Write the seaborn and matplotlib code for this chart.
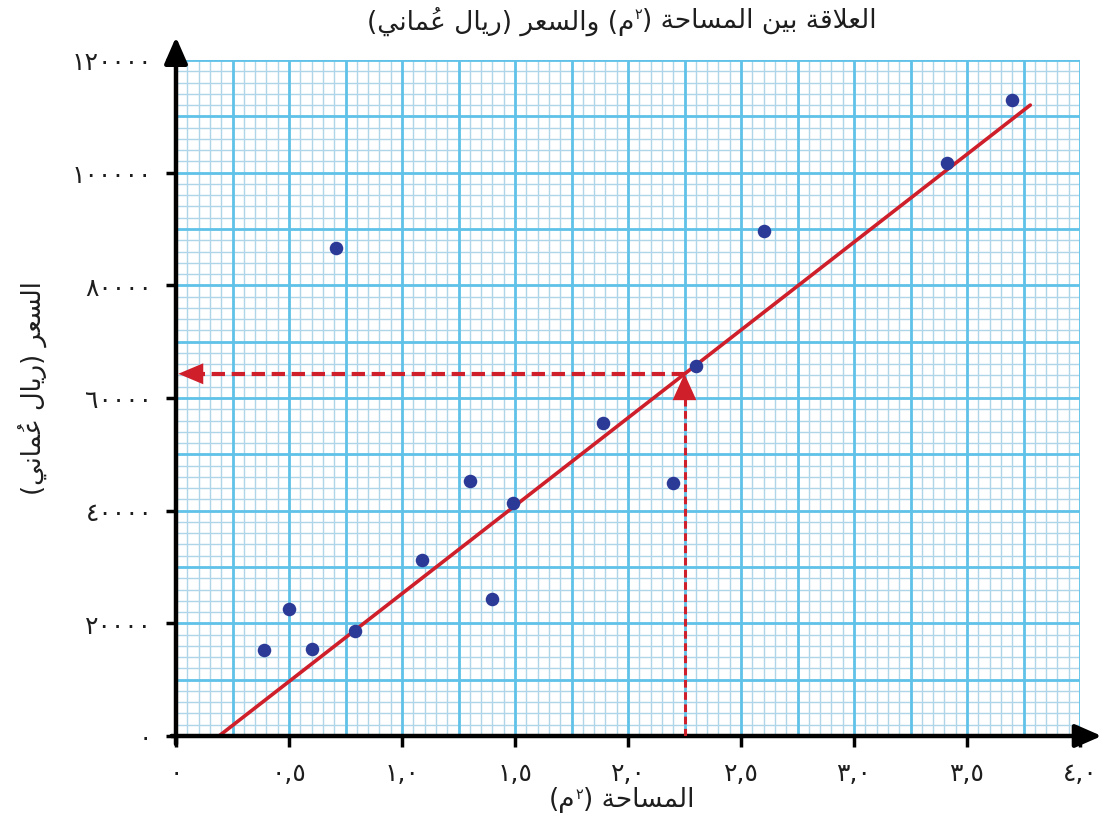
import numpy as np
import pandas as pd
import matplotlib
matplotlib.use("Agg")
import matplotlib.pyplot as plt
import seaborn as sns
from matplotlib.offsetbox import HPacker, TextArea, AnnotationBbox

# ---------------- data ----------------
area = [0.39, 0.50, 0.60, 0.71, 0.79, 1.09, 1.30, 1.40, 1.49, 1.89, 2.20, 2.30, 2.60, 3.41, 3.70]
price = [15300, 22500, 15400, 86600, 18600, 31200, 45300, 24300, 41400, 55600, 44900, 65700, 89600, 101700, 112900]
fit_x = [0.19, 3.78]
fit_y = [0, 112000]
read_x = 2.25
read_y = 64300
x_ticks = [0, 0.5, 1.0, 1.5, 2.0, 2.5, 3.0, 3.5, 4.0]
x_tick_labels = ['٠', '٠,٥', '١,٠', '١,٥', '٢,٠', '٢,٥', '٣,٠', '٣,٥', '٤,٠']
y_ticks = [0, 20000, 40000, 60000, 80000, 100000, 120000]
y_tick_labels = ['٠', '٢٠٠٠٠', '٤٠٠٠٠', '٦٠٠٠٠', '٨٠٠٠٠', '١٠٠٠٠٠', '١٢٠٠٠٠']
title_text = 'العلاقة بين المساحة (م٢) والسعر (ريال عُماني)'
x_label_text = 'المساحة (م٢)'
y_label_text = 'السعر (ريال عُماني)'

# ------------- minimal Arabic shaping + RTL ordering -------------
_AR = {
    '\u0627': ('\uFE8D', '\uFE8E', None, None),
    '\u0628': ('\uFE8F', '\uFE90', '\uFE91', '\uFE92'),
    '\u0629': ('\uFE93', '\uFE94', None, None),
    '\u062D': ('\uFEA1', '\uFEA2', '\uFEA3', '\uFEA4'),
    '\u0631': ('\uFEAD', '\uFEAE', None, None),
    '\u0633': ('\uFEB1', '\uFEB2', '\uFEB3', '\uFEB4'),
    '\u0639': ('\uFEC9', '\uFECA', '\uFECB', '\uFECC'),
    '\u0642': ('\uFED5', '\uFED6', '\uFED7', '\uFED8'),
    '\u0644': ('\uFEDD', '\uFEDE', '\uFEDF', '\uFEE0'),
    '\u0645': ('\uFEE1', '\uFEE2', '\uFEE3', '\uFEE4'),
    '\u0646': ('\uFEE5', '\uFEE6', '\uFEE7', '\uFEE8'),
    '\u0648': ('\uFEED', '\uFEEE', None, None),
    '\u064A': ('\uFEF1', '\uFEF2', '\uFEF3', '\uFEF4'),
}
_MARKS = {'\u064F'}
_MIRROR = {'(': ')', ')': '('}


def shape_rtl(text):
    chars = list(text)
    n = len(chars)

    def nb(i, step):
        j = i + step
        while 0 <= j < n and chars[j] in _MARKS:
            j += step
        return j if 0 <= j < n else None

    clusters = []
    i = 0
    while i < n:
        c = chars[i]
        if c in _AR:
            p = nb(i, -1)
            joins_prev = p is not None and chars[p] in _AR and _AR[chars[p]][2] is not None
            q = nb(i, 1)
            if c == '\u0644' and q is not None and chars[q] == '\u0627':
                g = '\uFEFC' if joins_prev else '\uFEFB'
                clusters.append([g])
                i = q + 1
                continue
            joins_next = _AR[c][2] is not None and q is not None and chars[q] in _AR
            iso, fin, ini, med = _AR[c]
            if joins_prev and joins_next:
                g = med
            elif joins_prev:
                g = fin
            elif joins_next:
                g = ini
            else:
                g = iso
            clusters.append([g])
        elif c in _MARKS and clusters:
            # mark placed before its base in visual (LTR) order
            clusters[-1].insert(0, c)
        else:
            clusters.append([_MIRROR.get(c, c)])
        i += 1
    return ''.join(''.join(cl) for cl in reversed(clusters))


def sup_pieces(text):
    """Split shaped text so the digit ٢ after م becomes a superscript to its right."""
    vis = shape_rtl(text)
    k = vis.index('٢')
    return vis[:k] + vis[k + 1], '٢', vis[k + 2:]


# ---------------- style ----------------
sns.set_theme(style="white")
plt.rcParams['font.family'] = ['DejaVu Sans']

RED = '#cf1f2b'
BLUE_PT = '#2b3a97'
MAJ = '#60c2e8'
MIN = '#afd6e8'
TXT = '#1e1e1e'

fig = plt.figure(figsize=(11.05, 8.37), dpi=100)
ax = fig.add_axes([176 / 1105, 1 - 737 / 837, 904 / 1105, 676 / 837])
ax.set_xlim(0, 4.0)
ax.set_ylim(0, 120000)
ax.set_facecolor('white')
for s in ax.spines.values():
    s.set_visible(False)

# graph-paper grid
ax.vlines(np.arange(0, 4.0001, 0.05), 0, 120000, colors=MIN, lw=1.0, zorder=0.5)
ax.hlines(np.arange(0, 120001, 2000), 0, 4.0, colors=MIN, lw=1.0, zorder=0.5)
ax.vlines(np.arange(0, 4.0001, 0.25), 0, 120000, colors=MAJ, lw=2.0, zorder=0.6)
ax.hlines(np.arange(0, 120001, 10000), 0, 4.0, colors=MAJ, lw=2.0, zorder=0.6)

# fitted line
fit_df = pd.DataFrame({'x': fit_x, 'y': fit_y})
sns.lineplot(data=fit_df, x='x', y='y', color=RED, lw=2.6, ax=ax, zorder=3)

# scatter points
df = pd.DataFrame({'area': area, 'price': price})
sns.scatterplot(data=df, x='area', y='price', color=BLUE_PT, s=95, edgecolor=BLUE_PT,
                linewidth=0, ax=ax, zorder=4)

# reading arrows (dashed)
ax.plot([read_x, read_x], [0, read_y * 0.95], color=RED, lw=2.2, dashes=(2.5, 1.5),
        zorder=3.5, solid_capstyle='butt')
ax.plot([read_x, 0.06], [read_y, read_y], color=RED, lw=3.0, dashes=(3.2, 1.6),
        zorder=3.5, solid_capstyle='butt')
ax.annotate('', xy=(read_x, read_y), xytext=(read_x, read_y * 0.93),
            arrowprops=dict(arrowstyle='-|>,head_length=1.0,head_width=0.45', color=RED,
                            lw=0, mutation_scale=19, shrinkA=0, shrinkB=0), zorder=5)
ax.annotate('', xy=(0.01, read_y), xytext=(0.12, read_y),
            arrowprops=dict(arrowstyle='-|>,head_length=1.0,head_width=0.42', color=RED,
                            lw=0, mutation_scale=18, shrinkA=0, shrinkB=0), zorder=5)

# black axes with arrows
ax.annotate('', xy=(0, 1.034), xytext=(0, -0.012), xycoords='axes fraction',
            textcoords='axes fraction', annotation_clip=False,
            arrowprops=dict(arrowstyle='-|>,head_length=0.8,head_width=0.35', color='black',
                            lw=3.2, mutation_scale=20, shrinkA=0, shrinkB=0))
ax.annotate('', xy=(1.024, 0), xytext=(-0.005, 0), xycoords='axes fraction',
            textcoords='axes fraction', annotation_clip=False,
            arrowprops=dict(arrowstyle='-|>,head_length=0.8,head_width=0.35', color='black',
                            lw=3.2, mutation_scale=20, shrinkA=0, shrinkB=0))

# ticks
ax.set_xticks(x_ticks)
ax.set_xticklabels(x_tick_labels)
ax.set_yticks(y_ticks)
ax.set_yticklabels(y_tick_labels)
ax.tick_params(axis='x', direction='out', length=8, width=2.5, color='black', pad=10,
               labelsize=18, labelcolor=TXT, bottom=True)
ax.tick_params(axis='y', direction='out', length=7, width=2.5, color='black', pad=10,
               labelsize=18, labelcolor=TXT, left=True)
ax.set_xlabel('')
ax.set_ylabel('')


def sup_label(text, xy, size):
    a, s, b = sup_pieces(text)
    box = HPacker(children=[TextArea(a, textprops=dict(fontsize=size, color=TXT)),
                            TextArea(s, textprops=dict(fontsize=size * 0.55, color=TXT)),
                            TextArea(b, textprops=dict(fontsize=size, color=TXT))],
                  align='top', pad=0, sep=0)
    ab = AnnotationBbox(box, xy, xycoords='figure fraction', frameon=False,
                        box_alignment=(0.5, 0.5), pad=0)
    fig.add_artist(ab)


# texts
sup_label(title_text, (622 / 1105, 1 - 22 / 837), 19)
sup_label(x_label_text, (622 / 1105, 1 - 800 / 837), 19)
fig.text(33 / 1105, 1 - 388 / 837, shape_rtl(y_label_text), ha='center', va='center',
         rotation=90, fontsize=18.5, color=TXT)

fig.savefig('out.png', dpi=100)
